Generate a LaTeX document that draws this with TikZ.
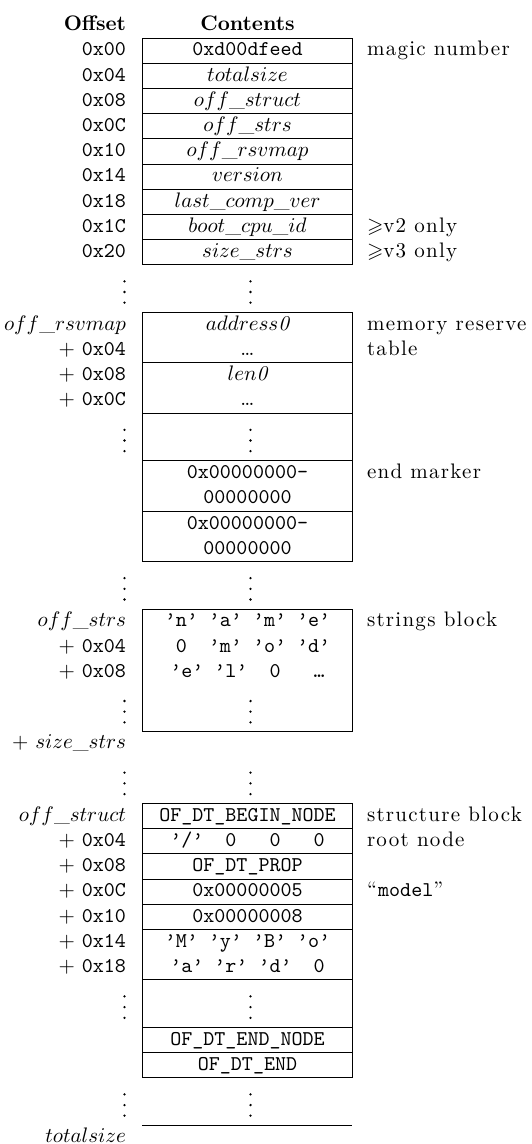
\documentclass[tikz,border=0pt]{standalone}
\usepackage{amssymb}
\usepackage{fontspec}
\newfontfamily\notefont{lmroman10-regular.otf}[LetterSpace=6]
\newcommand\dotcol[3]{% #1 name prefix, #2 x, #3 top of the row
  \foreach \k in {0,1,2}{\fill (#2,#3+16.5+10.7*\k) circle[radius=0.6pt];}}
\begin{document}
\begin{tikzpicture}[x=0.47619pt, y=-0.47619pt,
  every node/.style={inner sep=0pt, outer sep=0pt},
  off/.style={anchor=base east},
  cell/.style={anchor=base},
  note/.style={anchor=base west, font=\notefont},
  rulebox/.style={line width=0.4pt}]
\useasboundingbox (0,0) rectangle (531,1144);

% column heads
\node[off, font=\bfseries] (hoff) at (126,30.6) {Offset};
\node[cell, font=\bfseries] (hcont) at (247.5,30.6) {Contents};

% ---- header block ----
\draw[rulebox] (142,38) rectangle (352,264.8);
\foreach \y in {63.2,88.4,113.6,138.8,164,189.2,214.4,239.6}
  \draw[rulebox] (142,\y) -- (352,\y);
\node[off] (o00) at (126,55.85) {\texttt{0x00}};
\node[off] (o04) at (126,81.05) {\texttt{0x04}};
\node[off] (o08) at (126,106.25) {\texttt{0x08}};
\node[off] (o0C) at (126,131.45) {\texttt{0x0C}};
\node[off] (o10) at (126,156.65) {\texttt{0x10}};
\node[off] (o14) at (126,181.85) {\texttt{0x14}};
\node[off] (o18) at (126,207.05) {\texttt{0x18}};
\node[off] (o1C) at (126,232.25) {\texttt{0x1C}};
\node[off] (o20) at (126,257.45) {\texttt{0x20}};
\node[cell] (magic) at (247.5,55.85) {\texttt{0xd00dfeed}};
\node[cell] (tsize) at (247.5,81.05) {$totalsize$};
\node[cell] (ostruct) at (247.5,106.25) {$off\_struct$};
\node[cell] (ostrs) at (247.5,131.45) {$off\_strs$};
\node[cell] (orsv) at (247.5,156.65) {$off\_rsvmap$};
\node[cell] (vers) at (247.5,181.85) {$version$};
\node[cell] (lcv) at (247.5,207.05) {$last\_comp\_ver$};
\node[cell] (bcpu) at (247.5,232.25) {$boot\_cpu\_id$};
\node[cell] (sstrs) at (247.5,257.45) {$size\_strs$};
\node[note] (nmagic) at (367,55.85) {magic number};
\node[note] (nv2) at (367,232.25) {$\geqslant$v2 only};
\node[note] (nv3) at (367,257.45) {$\geqslant$v3 only};

\dotcol{g1l}{124.5}{264.8}
\dotcol{g1c}{250.5}{264.8}

% ---- memory reserve map ----
\draw[rulebox] (142,312.5) rectangle (352,561.6);
\foreach \y in {362.9,413.3,460.8,511.2}
  \draw[rulebox] (142,\y) -- (352,\y);
\node[off] (rsv0) at (126,330.35) {$off\_rsvmap$};
\node[off] (rsv4) at (126,355.55) {$+$ \texttt{0x04}};
\node[off] (rsv8) at (126,380.75) {$+$ \texttt{0x08}};
\node[off] (rsvC) at (126,405.95) {$+$ \texttt{0x0C}};
\node[cell] (addr) at (247.5,330.35) {$address\mathit{0}$};
\node[cell] (addrx) at (247.5,355.55) {\ldots};
\node[cell] (len) at (247.5,380.75) {$len\mathit{0}$};
\node[cell] (lenx) at (247.5,405.95) {\ldots};
\node[cell] (endA1) at (247.5,478.65) {\texttt{0x00000000-}};
\node[cell] (endA2) at (247.5,503.85) {\texttt{00000000}};
\node[cell] (endB1) at (247.5,529.05) {\texttt{0x00000000-}};
\node[cell] (endB2) at (247.5,554.25) {\texttt{00000000}};
\node[note] (nmem) at (367,330.35) {memory reserve};
\node[note] (ntab) at (367,355.55) {table};
\node[note] (nend) at (367,478.65) {end marker};
\dotcol{m1l}{124.5}{413.3}
\dotcol{m1c}{250.5}{413.3}

\dotcol{g2l}{124.5}{561.6}
\dotcol{g2c}{250.5}{561.6}

% ---- strings block ----
\draw[rulebox] (142,609) rectangle (352,731);
\node[off] (str0) at (126,626.85) {$off\_strs$};
\node[off] (str4) at (126,652.05) {$+$ \texttt{0x04}};
\node[off] (str8) at (126,677.25) {$+$ \texttt{0x08}};
\node[cell] (s1) at (247.5,626.85) {\texttt{’n’ ’a’ ’m’ ’e’}};
\node[cell] (s2) at (247.5,652.05) {\texttt{~0~ ’m’ ’o’ ’d’}};
\node[cell] (s3) at (247.5,677.25) {\texttt{’e’ ’l’ ~0~ ~…~}};
\node[note] (nstr) at (367,626.85) {strings block};
\dotcol{s1l}{124.5}{684.5}
\dotcol{s1c}{250.5}{684.5}
\node[off] (strend) at (126,748.85) {$+$ $size\_strs$};

\dotcol{g3l}{124.5}{756.2}
\dotcol{g3c}{250.5}{756.2}

% ---- structure block ----
\draw[rulebox] (142,803.5) rectangle (352,1077.8);
\foreach \y in {828.7,853.9,879.1,904.3,929.5,979.9,1027.4,1052.6}
  \draw[rulebox] (142,\y) -- (352,\y);
\node[off] (st0) at (126,821.35) {$off\_struct$};
\node[off] (st4) at (126,846.55) {$+$ \texttt{0x04}};
\node[off] (st8) at (126,871.75) {$+$ \texttt{0x08}};
\node[off] (stC) at (126,896.95) {$+$ \texttt{0x0C}};
\node[off] (st10) at (126,922.15) {$+$ \texttt{0x10}};
\node[off] (st14) at (126,947.35) {$+$ \texttt{0x14}};
\node[off] (st18) at (126,972.55) {$+$ \texttt{0x18}};
\node[cell] (begin) at (247.5,821.35) {\texttt{OF\_DT\_BEGIN\_NODE}};
\node[cell] (root) at (247.5,846.55) {\texttt{’/’ ~0~ ~0~ ~0~}};
\node[cell] (prop) at (247.5,871.75) {\texttt{OF\_DT\_PROP}};
\node[cell] (plen) at (247.5,896.95) {\texttt{0x00000005}};
\node[cell] (pname) at (247.5,922.15) {\texttt{0x00000008}};
\node[cell] (val1) at (247.5,947.35) {\texttt{’M’ ’y’ ’B’ ’o’}};
\node[cell] (val2) at (247.5,972.55) {\texttt{’a’ ’r’ ’d’ ~0~}};
\node[cell] (endnode) at (247.5,1045.25) {\texttt{OF\_DT\_END\_NODE}};
\node[cell] (dtend) at (247.5,1070.45) {\texttt{OF\_DT\_END}};
\node[note] (nstruct) at (367,821.35) {structure block};
\node[note] (nroot) at (367,846.55) {root node};
\node[note] (nmodel) at (367,896.95) {“\texttt{model}”};
\dotcol{t1l}{124.5}{979.9}
\dotcol{t1c}{250.5}{979.9}

\dotcol{g4l}{124.5}{1077.8}
\dotcol{g4c}{250.5}{1077.8}

% end of the blob
\coordinate (tl) at (142,1125.3);
\coordinate (tr) at (352,1125.3);
\draw[rulebox] (tl) -- (tr);
\node[off] (total) at (126,1142) {$totalsize$};
\end{tikzpicture}
\end{document}
